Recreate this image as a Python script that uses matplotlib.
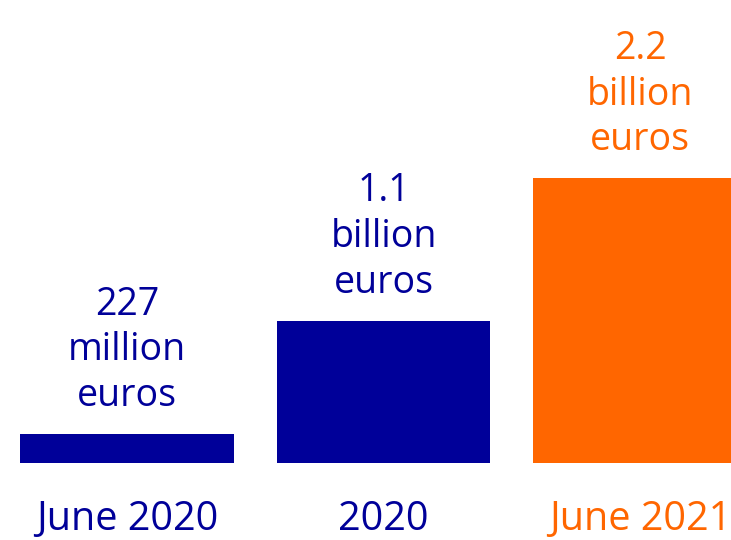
import matplotlib.pyplot as plt
from matplotlib.transforms import offset_copy

categories = ['June 2020', '2020', 'June 2021']
values = [0.227, 1.1, 2.2]  # billion euros
value_labels = ['227\nmillion\neuros', '1.1\nbillion\neuros', '2.2\nbillion\neuros']
colors = ['#000099', '#000099', '#FF6600']

plt.rcParams['font.family'] = ['Open Sans', 'DejaVu Sans']

fig = plt.figure(figsize=(7.31, 5.40), dpi=100)
ax = fig.add_axes([0, 0, 1, 1])

x = range(len(values))
ax.bar(x, values, width=0.834, color=colors)

ax.set_xlim(-127 / 256.5, (731 - 127) / 256.5)
ax.set_ylim(-(540 - 463) / 129.5, 463 / 129.5)
ax.axis('off')

lbl_trans = offset_copy(ax.transData, fig=fig, x=0, y=19, units='dots')
for i, (v, lab, c) in enumerate(zip(values, value_labels, colors)):
    ax.text(i, v, lab, transform=lbl_trans, ha='center', va='bottom',
            fontsize=27, color=c, linespacing=1.26)
    ax.text(i, -0.44, categories[i], ha='center', va='center',
            fontsize=28.5, color=c)

fig.savefig('out.png', dpi=100)
